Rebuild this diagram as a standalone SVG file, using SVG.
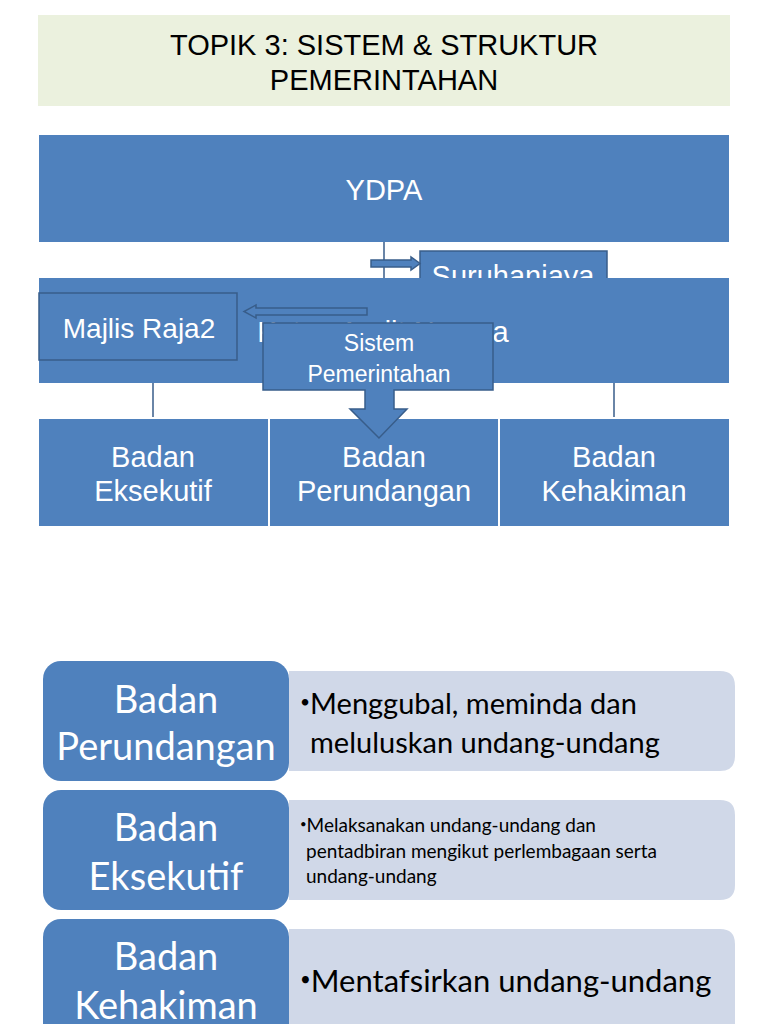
<svg xmlns="http://www.w3.org/2000/svg" width="768" height="1024" viewBox="0 0 768 1024">
<defs>
<style>
.blue{fill:#4f81bd;}
.bb{fill:#4f81bd;stroke:#385d8a;stroke-width:1.5;}
.t{font-family:"Liberation Sans",Arial,sans-serif;fill:#ffffff;text-anchor:middle;}
.c{font-family:Lato,"Open Sans",sans-serif;}
.line{stroke:#385d8a;stroke-width:1.5;fill:none;}
.light{fill:#d0d8e8;}
.bul{font-size:60%;}
</style>
<clipPath id="clipS"><rect x="0" y="0" width="768" height="278"/></clipPath>
</defs>
<rect width="768" height="1024" fill="#ffffff"/>

<g id="title">
<rect x="38" y="15" width="692" height="91" fill="#ebf1de"/>
<text x="384" y="55" font-family="Liberation Sans, Arial, sans-serif" font-size="29" text-anchor="middle" fill="#000">TOPIK 3: SISTEM &amp; STRUKTUR</text>
<text x="384" y="90" font-family="Liberation Sans, Arial, sans-serif" font-size="29" text-anchor="middle" fill="#000">PEMERINTAHAN</text>
</g>

<g id="ydpa">
<rect class="blue" x="39" y="135" width="690" height="107"/>
<text class="t" x="384" y="200" font-size="29">YDPA</text>
</g>

<g id="connectors">
<line class="line" x1="384" y1="242" x2="384" y2="278"/>
<line class="line" x1="153" y1="383" x2="153" y2="417"/>
<line class="line" x1="614" y1="383" x2="614" y2="417"/>
</g>

<g id="suruhanjaya" clip-path="url(#clipS)">
<rect class="bb" x="420" y="251" width="187" height="60"/>
<text class="t" x="513" y="286" font-size="29">Suruhanjaya</text>
</g>

<g id="arrow-right">
<polygon class="bb" points="371,260 411,260 411,257 420,263.5 411,270 411,267 371,267"/>
</g>

<g id="ketua-audit">
<rect class="blue" x="39" y="278" width="690" height="105"/>
<text class="t" x="383" y="342" font-size="29">Ketua Audit Negara</text>
</g>

<g id="majlis-raja">
<rect class="bb" x="39" y="293" width="198" height="67"/>
<text class="t" x="139" y="338" font-size="28">Majlis Raja2</text>
</g>

<g id="arrow-left">
<polygon class="bb" points="367,308 256,308 256,305 244,311.5 256,318 256,315 367,315"/>
</g>

<g id="badan-eksekutif">
<rect class="blue" x="39" y="419" width="229" height="107"/>
<text class="t" x="153" y="467" font-size="29">Badan</text>
<text class="t" x="153" y="501" font-size="29">Eksekutif</text>
</g>
<g id="badan-perundangan">
<rect class="blue" x="270" y="419" width="228" height="107"/>
<text class="t" x="384" y="467" font-size="29">Badan</text>
<text class="t" x="384" y="501" font-size="29">Perundangan</text>
</g>
<g id="badan-kehakiman">
<rect class="blue" x="500" y="419" width="229" height="107"/>
<text class="t" x="614" y="467" font-size="29">Badan</text>
<text class="t" x="614" y="501" font-size="29">Kehakiman</text>
</g>

<g id="sistem-pemerintahan">
<polygon class="bb" points="263,323 493,323 493,390 394,390 394,409 407,409 379,438 350,409 365,409 365,390 263,390"/>
<text class="t" x="379" y="351" font-size="23">Sistem</text>
<text class="t" x="379" y="382" font-size="23">Pemerintahan</text>
</g>

<g id="row-perundangan">
<path class="light" d="M289,671 H720 Q735,671 735,686 V756 Q735,771 720,771 H289 Z"/>
<rect class="blue" x="43" y="661" width="246" height="120" rx="18"/>
<text class="c" x="166" y="713" font-size="38" fill="#fff" text-anchor="middle">Badan</text>
<text class="c" x="166" y="760" font-size="38" fill="#fff" text-anchor="middle">Perundangan</text>
<text class="c" x="300" y="714" font-size="29" fill="#000"><tspan class="bul" dy="-6">•</tspan><tspan dy="6">Menggubal, meminda dan</tspan></text>
<text class="c" x="310" y="753" font-size="29" fill="#000">meluluskan undang-undang</text>
</g>

<g id="row-eksekutif">
<path class="light" d="M289,800 H720 Q735,800 735,815 V885 Q735,900 720,900 H289 Z"/>
<rect class="blue" x="43" y="790" width="246" height="120" rx="18"/>
<text class="c" x="166" y="841" font-size="38" fill="#fff" text-anchor="middle">Badan</text>
<text class="c" x="166" y="890" font-size="38" fill="#fff" text-anchor="middle">Eksekutif</text>
<text class="c" x="300" y="832" font-size="19" fill="#000"><tspan class="bul" dy="-4">•</tspan><tspan dy="4">Melaksanakan undang-undang dan</tspan></text>
<text class="c" x="306" y="858" font-size="19" fill="#000">pentadbiran mengikut perlembagaan serta</text>
<text class="c" x="306" y="883" font-size="19" fill="#000">undang-undang</text>
</g>

<g id="row-kehakiman">
<path class="light" d="M289,929 H720 Q735,929 735,944 V1040 H289 Z"/>
<rect class="blue" x="43" y="919" width="246" height="130" rx="18"/>
<text class="c" x="166" y="970" font-size="38" fill="#fff" text-anchor="middle">Badan</text>
<text class="c" x="166" y="1019" font-size="38" fill="#fff" text-anchor="middle">Kehakiman</text>
<text class="c" x="300" y="992" font-size="31" fill="#000"><tspan class="bul" dy="-6">•</tspan><tspan dy="6">Mentafsirkan undang-undang</tspan></text>
</g>
</svg>
